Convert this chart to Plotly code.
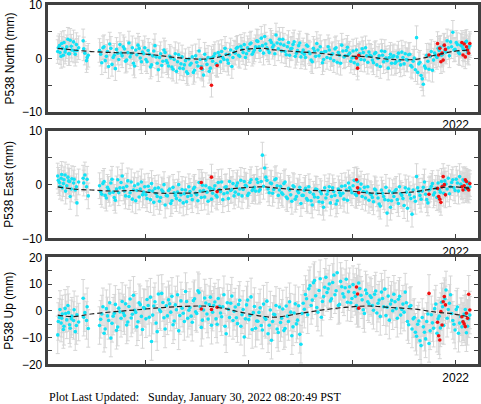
import plotly.graph_objects as go

# ---------------- data (days since 2020-01-01) ----------------
# set A of daily solutions
days_a = [28, 31, 34, 36, 39, 41, 44, 47, 50, 53, 56, 59, 62, 65, 73, 76, 79, 82,
          102, 106, 110, 114, 118, 122, 126, 130, 134, 138,
          142, 146, 150, 154, 158, 162, 166, 170, 174, 178,
          182, 186, 190, 194, 198, 202, 206, 210, 214, 218,
          222, 226, 230, 234, 238, 242, 246, 250, 254, 258,
          262, 266, 270, 274, 278, 282, 286, 290, 294, 298,
          302, 306, 310, 314, 318, 322, 326, 330, 334, 338,
          342, 346, 350, 354, 358, 362, 366, 370, 374, 378,
          382, 386, 390, 394, 398, 402, 406, 410, 414, 418,
          422, 426, 430, 434, 438, 442, 446, 450, 454, 458,
          462, 466, 470, 474, 478, 482, 486, 490, 494, 498,
          502, 506, 510, 514, 518, 522, 526, 530, 534, 538,
          542, 546, 550, 554, 558, 562, 566, 570, 574, 578,
          582, 586, 590, 594, 598, 602, 606, 610, 614, 618,
          622, 626, 630, 634, 638, 642, 646, 650, 654, 658,
          662, 666, 670, 674, 678, 682, 686, 690, 694, 698,
          702, 706, 710, 714, 718, 722, 726, 730, 734, 738,
          742, 746, 750, 754]

north_a = [1.3, 2.4, 0.4, 1.9, 3.0, 1.2, 2.2, 0.9, 3.4, 1.6, 3.1, 0.8, 1.5, 2.0, 3.3, 1.0, -0.4, 0.6,
           1.5, -0.8, 2.2, 0.4, -1.5, 1.9, 0.2, -1.9, 1.0, 2.6,
           0.5, 1.8, -0.3, 2.9, 0.9, -0.9, 1.6, 2.5, 0.1, 1.2,
           2.0, -0.6, 0.8, -1.2, 1.4, 0.3, -2.1, 0.9, -0.5, 1.1,
           -0.8, 0.4, -1.6, -0.2, -2.4, 0.7, -1.0, -1.9, -0.4, -2.8,
           -1.2, 0.3, -2.2, -0.7, 1.4, -1.5, -3.1, -0.3, 0.2, -1.8,
           -0.5, 0.9, -1.2, 0.5, 1.3, -0.2, 0.8, -0.9, 1.6, 0.2,
           1.0, 2.1, 0.4, 1.7, 2.6, 0.9, 1.5, 2.9, 1.2, 2.2,
           3.2, 1.5, 2.4, 4.1, 2.0, 1.1, 3.0, 2.5, 4.4, 1.8,
           2.7, 3.6, 1.3, 2.2, 0.6, 1.9, 3.1, 1.0, 2.4, 0.3,
           1.6, 0.2, 2.3, 0.9, -0.6, 1.4, 2.8, 0.5, 1.1, -0.2,
           1.3, 2.2, 0.0, 0.9, 1.8, -0.7, 0.6, 2.5, 0.3, 1.5,
           0.7, -0.5, 1.4, 0.2, -1.1, 0.9, 1.8, -0.3, 0.5, 1.2,
           0.4, -0.8, 1.1, 0.0, -1.5, 0.6, 1.3, -0.4, 0.2, -0.9,
           0.5, -0.6, 1.0, -1.2, 0.2, 0.9, -0.3, 0.8, -1.6, 0.1,
           3.9, -1.0, -3.2, -4.8, -1.8, -0.5, 0.4, -2.2, 1.0, 0.2,
           1.5, 0.6, 2.4, 1.2, 2.0, 3.1, 4.9, 1.7, 2.6, 0.9,
           2.3, 1.6, 3.2, 2.0]

east_a = [1.6, 0.4, 1.2, -0.6, 0.9, 1.8, -0.2, 0.7, -2.2, 1.1, 0.3, -1.0, -3.4, 0.5, 1.2, 1.8, -0.4, -2.1,
          -0.2, -1.8, 0.6, -2.5, -0.9, 0.3, -1.4, -2.9, 0.9, -0.6,
          1.6, -1.2, -0.3, -2.2, 0.5, -1.0, -3.0, 0.1, -0.8, -1.9,
          -0.4, -2.6, -1.1, 0.2, -3.3, -1.7, -0.6, -2.4, -1.3, -3.8,
          -2.1, -0.8, -3.0, -1.5, -2.6, 0.0, -1.9, -3.4, -1.0, -2.2,
          -1.3, -2.8, -0.5, -1.9, 0.4, -2.4, -1.1, -0.2, -3.1, -0.7,
          -1.6, -0.2, -2.3, -0.9, 0.5, -1.7, -0.4, -2.6, -1.1, 0.2,
          -1.4, 0.3, -0.8, -2.1, 0.6, -0.3, -1.6, 0.9, -0.7, -1.2,
          0.4, -0.9, 5.5, 3.1, 0.8, -1.5, 0.2, -0.9, 1.1, -2.0,
          -0.3, -1.8, 0.5, -2.6, -1.0, -3.1, -0.4, -2.2, -1.5, -3.5,
          -2.0, -0.7, -2.9, -1.4, -3.8, -2.3, -0.9, -3.2, -1.7, -4.2,
          -2.5, -1.2, -3.4, -0.6, -2.0, -3.0, -1.5, -0.3, -2.7, -1.0,
          0.3, -1.0, -0.2, -1.8, 0.6, -0.8, -2.2, -0.5, -1.4, -2.9,
          -1.9, -3.2, -1.0, -2.5, -4.0, -1.6, -2.8, -5.3, -1.2, -3.0,
          -2.2, -0.9, -3.5, -1.7, -2.6, -0.6, -4.4, -1.9, -5.5, -2.3,
          1.5, -1.3, -2.7, -0.5, -1.8, -3.4, -0.8, 0.2, -1.5, -2.4,
          -0.9, 0.6, -1.6, 0.1, 1.2, -0.4, 0.9, -1.1, 0.3, 1.5,
          -0.2, 0.7, -0.6, 0.4]

up_a = [-9.0, -2.5, -4.6, -1.2, -5.8, 0.9, -3.4, -0.7, -6.5, -2.0, -3.6, -7.8, -1.5, -4.2, 4.7, -0.7, -3.6, -6.6,
        -5.5, -1.2, -8.4, 0.8, -3.6, -10.2, -2.0, 2.4, -6.1, -0.4,
        3.5, -1.8, -5.3, 1.6, -2.7, 5.8, -0.6, -4.1, 2.3, -7.0,
        0.9, 4.2, -2.4, -11.5, 1.8, -4.6, 6.3, -0.3, 3.1, -6.8,
        -1.9, 2.6, 5.4, -3.8, 0.4, -7.5, 3.7, -0.9, 7.2, -2.8,
        1.2, -4.3, 4.5, -1.0, 6.8, -6.2, 0.3, 2.9, -3.1, 5.1,
        -0.5, 3.3, -5.0, 1.7, -2.2, 6.0, -8.6, 0.6, 2.8, -3.6,
        1.4, -4.8, 3.9, -1.5, -9.8, 2.2, -3.3, 5.2, -0.7, -6.5,
        -3.9, 1.1, -7.2, -2.5, 3.6, -5.4, -11.0, -1.3, 2.0, -8.1,
        -4.4, 0.7, -6.6, -2.0, 3.4, -9.3, -0.8, -4.9, 1.9, -12.5,
        2.8, 6.1, -1.5, 9.4, 4.0, 11.3, 1.2, 7.6, -2.4, 5.3,
        12.5, 8.2, 3.7, 10.6, 6.0, 14.2, 2.4, 9.0, 5.2, 11.8,
        7.1, 3.0, 9.8, 5.4, 0.9, 8.3, 4.1, -1.0, 6.5, 2.6,
        5.0, 0.2, 7.4, 2.8, -2.1, 4.6, 8.1, 1.3, -3.5, 3.9,
        6.2, 0.8, 4.3, -1.6, 2.5, 7.0, -4.0, 1.6, -6.8, -2.5,
        -9.5, -3.8, -13.0, -6.0, -10.5, -1.2, -7.5, -4.5, 0.8, -8.4,
        -2.0, 3.2, -5.5, 7.8, 0.5, 6.0, -3.6, -7.2, 1.4, -4.6,
        -6.0, -1.2, -8.2, -3.0]

# set B of daily solutions (interleaved with set A)
days_b = [29, 32, 35, 38, 42, 46, 49, 52, 57, 61, 74, 80,
          104, 108, 112, 116, 120, 124, 128, 132, 136, 140,
          144, 148, 152, 156, 160, 164, 168, 172, 176, 180,
          184, 188, 192, 196, 200, 204, 208, 212, 216, 220,
          224, 228, 232, 236, 240, 244, 248, 252, 256, 260,
          264, 268, 272, 276, 280, 284, 288, 292, 296, 300,
          304, 308, 312, 316, 320, 324, 328, 332, 336, 340,
          344, 348, 352, 356, 360, 364, 368, 372, 376, 380,
          384, 388, 392, 396, 400, 404, 408, 412, 416, 420,
          424, 428, 432, 436, 440, 444, 448, 452, 456, 460,
          464, 468, 472, 476, 480, 484, 488, 492, 496, 500,
          504, 508, 512, 516, 520, 524, 528, 532, 536, 540,
          544, 548, 552, 556, 560, 564, 568, 572, 576, 580,
          584, 588, 592, 596, 600, 604, 608, 612, 616, 620,
          624, 628, 632, 636, 640, 644, 648, 652, 656, 660,
          664, 668, 672, 676, 680, 684, 688, 692, 696, 700,
          704, 708, 712, 716, 720, 724, 728, 732, 736, 740,
          744, 748, 752, 756]

north_b = [2.0, 1.1, 2.8, 0.6, 1.7, 3.6, 0.9, 2.3, 1.4, 2.6, 1.8, 0.2,
           0.8, 2.0, -0.4, 1.3, 2.7, -1.1, 0.6, 1.7, -0.2, 1.0,
           2.2, -0.5, 1.1, 0.3, 2.0, -1.4, 0.7, 1.9, -0.6, 0.9,
           -0.2, 1.5, -1.6, 0.5, 2.4, -0.9, 0.2, -1.3, 1.6, -0.4,
           -1.4, 0.1, -2.0, 0.9, -0.6, -1.8, 0.3, -1.2, -2.5, -0.1,
           -0.9, -2.6, 0.5, -1.4, -0.2, -2.0, 0.8, -1.1, -2.4, 0.1,
           0.4, -1.0, 1.1, -0.6, 0.2, 1.9, -0.3, 0.7, -1.5, 1.2,
           1.9, 0.6, 2.3, 1.1, 0.2, 2.0, 2.7, 0.8, 1.6, 3.3,
           2.2, 3.8, 1.0, 2.7, 1.6, 3.4, 2.1, 0.9, 2.9, 3.6,
           1.4, 2.5, 0.7, 3.0, 1.8, 2.6, 0.4, 1.5, 2.9, 1.1,
           0.8, 2.5, 1.2, -0.3, 1.9, 0.4, 1.6, 2.2, -0.8, 1.3,
           0.2, 1.6, 0.7, -0.4, 2.0, 1.1, -0.9, 1.4, 0.5, 2.1,
           1.0, 0.1, -0.8, 1.6, 0.4, -0.2, 1.1, 2.0, -0.7, 0.6,
           -0.3, 0.9, -1.2, 0.5, 1.4, -0.6, 0.1, -1.8, 0.8, 0.3,
           -0.9, 0.3, -0.4, 1.2, -1.0, -0.2, 0.7, -1.3, -0.5, -2.1,
           -2.6, -0.7, -3.8, -1.4, 0.6, -2.0, 1.3, -0.3, 0.5, 1.9,
           2.1, 0.8, 1.4, 3.3, 0.5, 2.2, 1.6, 3.0, 1.1, 2.5,
           1.8, 3.0, 1.2, 2.4]

east_b = [0.8, -0.3, 1.9, 0.2, -1.2, 1.4, 0.6, -0.8, 1.0, -0.4, 0.3, 1.0,
          -1.3, 0.2, -2.0, -0.5, -1.6, 1.0, -2.4, -0.8, -1.5, 0.4,
          -0.6, -2.1, 0.7, -1.5, -2.7, -0.2, -1.1, -2.3, 0.5, -1.4,
          -1.9, -0.3, -2.8, -1.2, -0.7, -2.2, -3.1, -1.0, 0.0, -2.0,
          -1.1, -3.5, -0.5, -2.0, -1.4, -2.9, -0.9, -1.7, -3.2, -0.4,
          -2.0, -0.8, -1.6, -3.0, -1.2, -0.1, -2.3, -1.4, -0.6, -2.7,
          -0.8, -2.0, 0.4, -1.3, -2.8, -0.5, -1.5, 0.6, -0.9, -2.1,
          -0.2, -1.8, 0.8, -0.9, -0.1, -2.0, 0.4, -1.1, -0.5, 1.0,
          -1.2, 0.6, -0.3, 1.4, -0.8, 0.3, -1.6, 0.9, -0.2, -1.0,
          -1.5, 0.2, -2.3, -0.7, -1.9, -0.2, -2.7, -1.2, -0.5, -2.0,
          -1.1, -2.6, -0.4, -3.0, -1.8, -0.8, -2.4, -1.3, -3.3, -0.6,
          -1.8, -0.4, -2.2, -1.3, -3.6, -0.8, -2.0, -1.6, -0.2, -2.9,
          -0.6, -1.5, 0.8, -2.0, -0.9, 0.1, -1.3, -2.5, -0.4, -1.7,
          -2.4, -0.8, -1.7, -3.6, -1.0, -2.2, -0.5, -2.9, -4.2, -1.5,
          -1.2, -2.8, -0.4, -2.0, -3.9, -1.4, -0.8, -2.6, -1.0, -3.1,
          -0.6, -2.0, -1.2, 0.5, -2.8, -1.0, -0.3, -1.9, -0.7, 0.3,
          -1.4, -0.2, 0.7, -0.8, -1.7, 0.4, -0.6, 1.0, -1.2, 0.1,
          0.9, -0.9, 0.2, -0.4]

up_b = [-4.0, 0.5, -2.8, -7.0, -1.0, 2.0, -5.2, -3.0, 0.4, -5.5, -2.4, 1.5,
        -3.2, 1.5, -6.8, -1.9, 3.0, -4.7, -0.9, -7.3, 1.0, -2.8,
        -0.8, 2.6, -4.2, 4.4, -1.3, 0.2, -6.0, 3.0, -2.1, 1.2,
        -3.0, 2.0, 5.1, -1.6, 3.4, -7.8, 0.4, 6.5, -2.6, 1.9,
        4.1, -0.5, -5.2, 2.2, 6.0, -1.8, 1.0, -4.0, 3.5, 0.2,
        -2.0, 3.8, -0.4, 7.5, 1.6, -3.5, 4.8, -1.2, 2.3, -5.4,
        2.0, -3.0, 4.6, -0.8, 1.5, -5.8, 3.0, -2.5, 5.5, -0.2,
        -2.6, 2.4, -5.8, 0.5, -3.0, 4.0, -1.8, -7.0, 1.6, -3.8,
        -0.6, -5.5, 2.5, -3.2, -8.6, 0.3, -4.0, -1.5, -6.8, 1.4,
        -2.8, -7.4, 1.8, -4.0, -0.5, -6.0, 2.6, -3.5, -8.8, -1.0,
        0.6, 4.5, 8.2, 2.0, 10.5, 5.6, -0.5, 12.0, 3.5, 8.8,
        6.8, 10.0, 4.5, 13.4, 7.5, 2.0, 11.0, 6.4, 8.6, 3.2,
        9.0, 4.6, 6.8, 2.0, 10.4, 5.8, 0.4, 7.8, 3.4, 5.6,
        2.0, 6.2, -0.8, 4.0, 7.0, 1.5, -1.8, 5.5, 2.5, 0.0,
        3.4, -2.8, 5.4, 0.5, -0.5, 3.0, -5.2, 2.0, -3.0, -8.0,
        -5.0, -11.2, -2.5, -8.0, -4.0, -12.2, -1.5, -6.5, 2.5, -3.0,
        -6.4, 1.5, 4.5, -2.8, 2.8, -1.0, -5.0, 0.5, -8.4, -2.2,
        -4.0, 0.5, -5.8, -1.6]

red_days = [282, 300, 310, 556, 558, 560, 684,
            699, 701, 703, 705, 707, 709, 711, 713,
            742, 744, 746, 748, 750, 752, 754, 756]
red_north = [-1.8, -5.0, -1.3, 0.1, -1.8, 0.6, 0.65,
             2.8, 0.65, 1.9, -0.6, 1.0, -0.3, 2.5, 1.7,
             3.0, 0.65, 2.7, 0.3, 2.2, 1.6, 1.0, 2.8]
red_east = [0.4, 1.4, -1.3, 0.9, -0.6, -1.5, -1.8,
            -0.7, -2.2, -2.7, -3.3, -0.4, 1.5, 0.0, -1.9,
            -0.4, -1.0, -0.2, 0.9, 0.6, -0.7, -1.0, 0.2]
red_up = [0.7, 0.5, 1.3, 8.9, 6.3, 1.0, 6.5,
          -4.3, -9.3, -10.9, -0.3, -5.3, 3.4, 5.3, 2.2,
          -2.2, -4.1, -4.9, -5.9, -0.9, -2.8, 6.2, 0.3]

model_days = [28, 55, 87, 129, 164, 200, 235, 276, 300, 326, 353, 389, 412, 448,
              489, 536, 578, 613, 660, 696, 725, 756]
model_north = [1.9, 1.6, 1.3, 1.1, 1.0, 0.65, 0.2, -0.1, 0.0, 0.65, 1.6, 1.9, 1.6, 1.3,
               1.0, 0.5, 0.3, -0.15, -0.15, 0.65, 1.3, 1.6]
model_east = [-0.4, -0.8, -1.0, -1.2, -1.1, -1.55, -1.6, -1.5, -1.1, -0.85, -0.6, -0.4, -0.6, -0.9,
              -1.1, -1.1, -1.55, -1.6, -1.3, -0.7, -0.4, -0.7]
model_up = [-1.6, -2.2, -1.2, -0.3, 0.3, 1.0, 1.5, 1.8, 1.6, 0.7, -0.6, -2.0, -2.4, -1.3,
            0.1, 1.3, 1.8, 1.3, 0.6, -0.5, -1.1, -2.3]

err_north = 2.2
err_east = 2.4
err_up = 7.0

y_titles = ["P538 North (mm)", "P538 East (mm)", "P538 Up (mm)"]
y_ranges = [[-10, 10], [-10, 10], [-20, 20]]
y_tickvals = [[-10, -5, 0, 5, 10], [-10, -5, 0, 5, 10], [-20, -15, -10, -5, 0, 5, 10, 15, 20]]
y_ticktext = [["\u221210", "", "0", "", "10"], ["\u221210", "", "0", "", "10"],
              ["\u221220", "", "\u221210", "", "0", "", "10", "", "20"]]
x_tickvals = [2020.5, 2021.0, 2021.5, 2022.0]
x_ticktext = ["", "", "", "2022"]
footer = "Plot Last Updated:\u00a0\u00a0\u00a0Sunday, January 30, 2022 08:20:49 PST"


def to_year(d):
    return 2020 + d / 366.0 if d < 366 else 2021 + (d - 366) / 365.0


cyan_days = days_a + days_b
cx = [to_year(d) for d in cyan_days]
rx = [to_year(d) for d in red_days]
mx = [to_year(d) for d in model_days]

W, H = 481, 404
x_dom = [47.7 / W, 478.0 / W]
y_px = [(5.0, 112.0), (131.0, 238.3), (257.3, 364.3)]

CYAN = "#12e2f6"
RED = "#f01010"
ERRC = "#d6d6d6"
FRAME = "#404040"

panels = [(north_a + north_b, red_north, model_north, err_north),
          (east_a + east_b, red_east, model_east, err_east),
          (up_a + up_b, red_up, model_up, err_up)]

fig = go.Figure()
layout = dict(width=W, height=H, margin=dict(l=0, r=0, t=0, b=0),
              paper_bgcolor="white", plot_bgcolor="white", showlegend=False, hovermode=False,
              font=dict(family="Liberation Sans, Arial, sans-serif", size=12, color="black"))
annotations = []

for i, (vals, rvals, mvals, err) in enumerate(panels):
    n = i + 1
    xa = "x" if n == 1 else f"x{n}"
    ya = "y" if n == 1 else f"y{n}"
    fig.add_trace(go.Scatter(x=cx, y=vals, mode="markers", xaxis=xa, yaxis=ya,
                             marker=dict(size=1, color="rgba(0,0,0,0)"),
                             error_y=dict(type="constant", value=err, color=ERRC, thickness=1, width=2),
                             hoverinfo="skip"))
    fig.add_trace(go.Scatter(x=rx, y=rvals, mode="markers", xaxis=xa, yaxis=ya,
                             marker=dict(size=1, color="rgba(0,0,0,0)"),
                             error_y=dict(type="constant", value=err, color=ERRC, thickness=1, width=2),
                             hoverinfo="skip"))
    fig.add_trace(go.Scatter(x=cx, y=vals, mode="markers", xaxis=xa, yaxis=ya,
                             marker=dict(size=3.6, color=CYAN, line=dict(width=0))))
    fig.add_trace(go.Scatter(x=rx, y=rvals, mode="markers", xaxis=xa, yaxis=ya,
                             marker=dict(size=3.6, color=RED, line=dict(width=0))))
    fig.add_trace(go.Scatter(x=mx, y=mvals, mode="lines", xaxis=xa, yaxis=ya,
                             line=dict(color="#202020", width=1.2, dash="5px,3px", shape="spline")))

    top, bot = y_px[i]
    dom = [1 - bot / H, 1 - top / H]
    axis_common = dict(showline=True, linecolor=FRAME, linewidth=3, mirror="ticks",
                       ticks="inside", ticklen=4, tickwidth=1, tickcolor=FRAME,
                       showgrid=False, zeroline=False, automargin=False,
                       ticklabeloverflow="allow",
                       tickfont=dict(size=12, color="black"))
    layout["xaxis" if n == 1 else f"xaxis{n}"] = dict(
        domain=x_dom, range=[2020.028, 2022.108], anchor=ya,
        tickmode="array", tickvals=x_tickvals, ticktext=x_ticktext, **axis_common)
    layout["yaxis" if n == 1 else f"yaxis{n}"] = dict(
        domain=dom, range=y_ranges[i], anchor=xa,
        tickmode="array", tickvals=y_tickvals[i], ticktext=y_ticktext[i], **axis_common)
    annotations.append(dict(text=y_titles[i], xref="paper", yref="paper",
                            x=9.0 / W, y=1 - (top + bot) / 2 / H, xanchor="center", yanchor="middle",
                            textangle=-90, showarrow=False, font=dict(size=12, color="black")))

annotations.append(dict(text=footer, xref="paper", yref="paper", x=47.0 / W, y=1 - 396.5 / H,
                        xanchor="left", yanchor="middle", showarrow=False,
                        font=dict(family="Liberation Serif, Times New Roman, serif", size=12, color="black")))
layout["annotations"] = annotations
fig.update_layout(**layout)
fig.write_html("out.html", config={"displayModeBar": False, "staticPlot": True},
               post_script="document.body.style.margin='0';document.body.style.padding='0';")
